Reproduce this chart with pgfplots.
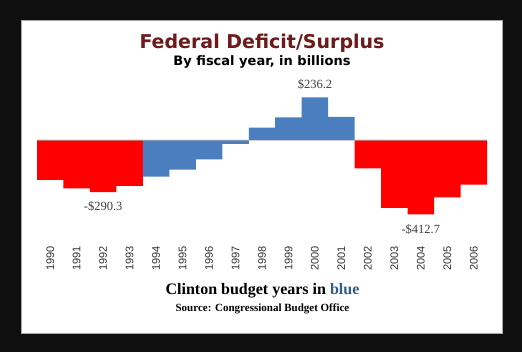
\documentclass[border=0pt]{standalone}
\usepackage{pgfplots}
\pgfplotsset{compat=1.18}
\usepackage{fontspec}
\setmainfont{Liberation Serif}
\newfontfamily\verd{DejaVu Sans}
\newfontfamily\arial{Liberation Sans}
\definecolor{bgblack}{HTML}{0F0F0F}
\definecolor{titlered}{HTML}{6E1A1A}
\definecolor{clintonblue}{HTML}{4A7EBF}
\definecolor{bluetext}{HTML}{2F5E8C}
\begin{document}
\begin{tikzpicture}[x=1pt,y=1pt]
\fill[bgblack] (0,0) rectangle (522,352);
\useasboundingbox (0,0) rectangle (522,352);
\draw[fill=white, draw=gray!70, line width=1.5pt] (21.5,18.5) rectangle (502.5,331.5);
\node[font=\verd\bfseries\fontsize{19}{22}\selectfont, text=titlered] at (262,309) {Federal Deficit/Surplus};
\node[font=\verd\bfseries\fontsize{13}{15}\selectfont] at (262,290) {By fiscal year, in billions};
\begin{axis}[at={(37pt,109pt)}, anchor=south west, scale only axis,
  width=450pt, height=148pt,
  xmin=-0.5, xmax=16.5, ymin=-572.2, ymax=250,
  axis line style={draw=none}, tick style={draw=none},
  ymajorticks=false,
  xtick={0,...,16},
  xticklabels={1990,1991,1992,1993,1994,1995,1996,1997,1998,1999,2000,2001,2002,2003,2004,2005,2006},
  xticklabel style={rotate=90, anchor=east, font=\arial\fontsize{11}{11}\selectfont, text=black!80},
  clip=false]
\addplot[ybar, bar width=1, bar shift=0pt, fill=red, draw=none]
  coordinates {(0,-221.0) (1,-269.2) (2,-290.3) (3,-255.1) (12,-157.8) (13,-377.6) (14,-412.7) (15,-318.3) (16,-248.2)};
\addplot[ybar, bar width=1, bar shift=0pt, fill=clintonblue, draw=none]
  coordinates {(4,-203.2) (5,-164.0) (6,-107.4) (7,-21.9) (8,69.3) (9,125.6) (10,236.2) (11,128.2)};
\draw[gray!60, line width=0.8pt, opacity=0.6] (axis cs:-0.5,0) -- (axis cs:16.5,0);
\node[font=\fontsize{12.5}{14}\selectfont, text=black!75] at (axis cs:10,236.2) [yshift=13pt] {\$236.2};
\node[font=\fontsize{12.5}{14}\selectfont, text=black!75] at (axis cs:2,-290.3) [yshift=-14pt] {-\$290.3};
\node[font=\fontsize{12.5}{14}\selectfont, text=black!75] at (axis cs:14,-412.7) [yshift=-15pt] {-\$412.7};
\end{axis}
\node[font=\bfseries\fontsize{16}{18}\selectfont] at (262.5,61) {Clinton budget years in \textcolor{bluetext}{blue}};
\node[font=\bfseries\fontsize{11}{13}\selectfont] at (262.5,43) {Source: Congressional Budget Office};
\end{tikzpicture}
\end{document}
